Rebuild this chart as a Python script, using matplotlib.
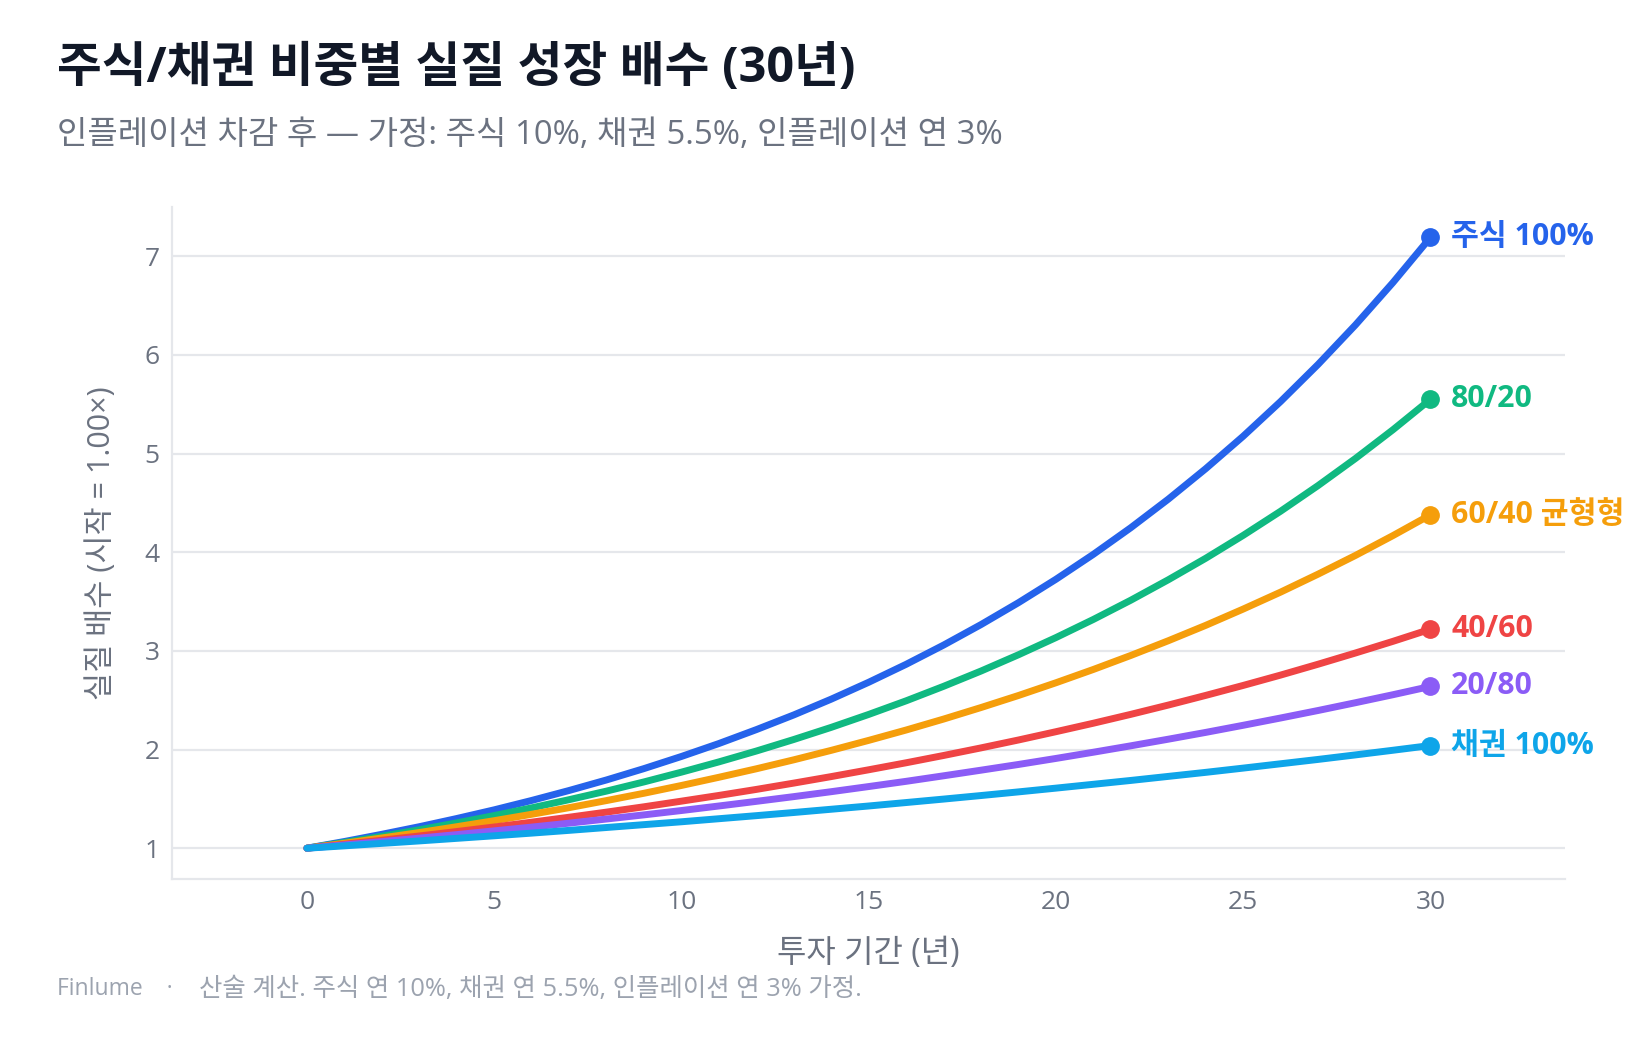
import matplotlib
matplotlib.use('Agg')
import matplotlib.pyplot as plt

plt.rcParams['font.family'] = ['Open Sans', 'Noto Sans CJK KR', 'DejaVu Sans']

years = list(range(0, 31))

stock100 = [1.000, 1.068, 1.141, 1.218, 1.301, 1.389, 1.484, 1.585, 1.692, 1.807,
            1.930, 2.061, 2.202, 2.351, 2.511, 2.682, 2.864, 3.059, 3.267, 3.489,
            3.726, 3.979, 4.249, 4.538, 4.847, 5.176, 5.528, 5.904, 6.305, 6.734, 7.191]
mix8020 = [1.000, 1.059, 1.121, 1.187, 1.257, 1.331, 1.409, 1.492, 1.579, 1.672,
           1.771, 1.875, 1.985, 2.102, 2.225, 2.356, 2.494, 2.641, 2.796, 2.961,
           3.135, 3.319, 3.514, 3.721, 3.939, 4.171, 4.416, 4.676, 4.951, 5.242, 5.550]
mix6040 = [1.000, 1.050, 1.104, 1.159, 1.218, 1.279, 1.344, 1.411, 1.483, 1.557,
           1.636, 1.719, 1.805, 1.896, 1.992, 2.093, 2.198, 2.309, 2.426, 2.548,
           2.677, 2.812, 2.954, 3.103, 3.259, 3.424, 3.596, 3.778, 3.968, 4.169, 4.379]
mix4060 = [1.000, 1.040, 1.081, 1.124, 1.169, 1.215, 1.264, 1.314, 1.366, 1.420,
           1.477, 1.535, 1.596, 1.660, 1.726, 1.795, 1.866, 1.940, 2.017, 2.097,
           2.181, 2.267, 2.357, 2.451, 2.549, 2.650, 2.755, 2.865, 2.979, 3.097, 3.220]
mix2080 = [1.000, 1.033, 1.067, 1.102, 1.138, 1.176, 1.214, 1.254, 1.296, 1.338,
           1.382, 1.428, 1.475, 1.523, 1.573, 1.625, 1.678, 1.734, 1.791, 1.849,
           1.910, 1.973, 2.038, 2.105, 2.174, 2.246, 2.320, 2.396, 2.475, 2.556, 2.640]
bond100 = [1.000, 1.024, 1.049, 1.074, 1.100, 1.126, 1.153, 1.181, 1.210, 1.239,
           1.268, 1.299, 1.330, 1.362, 1.395, 1.428, 1.463, 1.498, 1.534, 1.571,
           1.609, 1.648, 1.687, 1.728, 1.769, 1.812, 1.856, 1.900, 1.946, 1.993, 2.041]

series = [stock100, mix8020, mix6040, mix4060, mix2080, bond100]
names = ['주식 100%', '80/20', '60/40 균형형', '40/60', '20/80', '채권 100%']
colors = ['#2563eb', '#10b981', '#f59e0b', '#ef4444', '#8b5cf6', '#0ea5e9']

fig = plt.figure(figsize=(16.39, 10.40), dpi=100)
ax = fig.add_axes([0.105, 0.155, 0.850, 0.646])

for vals, name, col in zip(series, names, colors):
    ax.plot(years, vals, color=col, lw=5, solid_capstyle='round', zorder=3)
    ax.plot(years[-1], vals[-1], 'o', color=col, ms=12.5, zorder=4)
    ax.annotate(name, (years[-1], vals[-1]), xytext=(15, 0), textcoords='offset points',
                color=col, fontsize=21.8, fontweight='bold', va='center', ha='left',
                annotation_clip=False)

ax.set_xlim(-3.6, 33.6)
ax.set_ylim(0.69, 7.5)
ax.set_xticks([0, 5, 10, 15, 20, 25, 30])
ax.set_yticks([1, 2, 3, 4, 5, 6, 7])
ax.grid(axis='y', color='#e5e7eb', lw=1.6)
ax.set_axisbelow(True)
for s in ['top', 'right']:
    ax.spines[s].set_visible(False)
for s in ['left', 'bottom']:
    ax.spines[s].set_color('#e5e7eb')
    ax.spines[s].set_linewidth(1.6)
ax.tick_params(length=0, labelsize=19, labelcolor='#6b7280')
ax.tick_params(axis='x', pad=8)
ax.tick_params(axis='y', pad=9)

ax.set_xlabel('투자 기간 (년)', fontsize=23, color='#6b7280', labelpad=16)
ax.set_ylabel('실질 배수 (시작 = 1.00×)', fontsize=22, color='#6b7280', labelpad=20)

fig.text(0.035, 0.933, '주식/채권 비중별 실질 성장 배수 (30년)', fontsize=35,
         fontweight='bold', color='#111827', va='center', ha='left')
fig.text(0.035, 0.870, '인플레이션 차감 후 — 가정: 주식 10%, 채권 5.5%, 인플레이션 연 3%',
         fontsize=23.8, color='#6b7280', va='center', ha='left')
fig.text(0.035, 0.049, 'Finlume    ·', fontsize=16.5, color='#9ca3af', va='center', ha='left')
fig.text(0.1212, 0.049, '산술 계산. 주식 연 10%, 채권 연 5.5%, 인플레이션 연 3% 가정.',
         fontsize=18.3, color='#9ca3af', va='center', ha='left')

fig.savefig('out.png', dpi=100, facecolor='white')
